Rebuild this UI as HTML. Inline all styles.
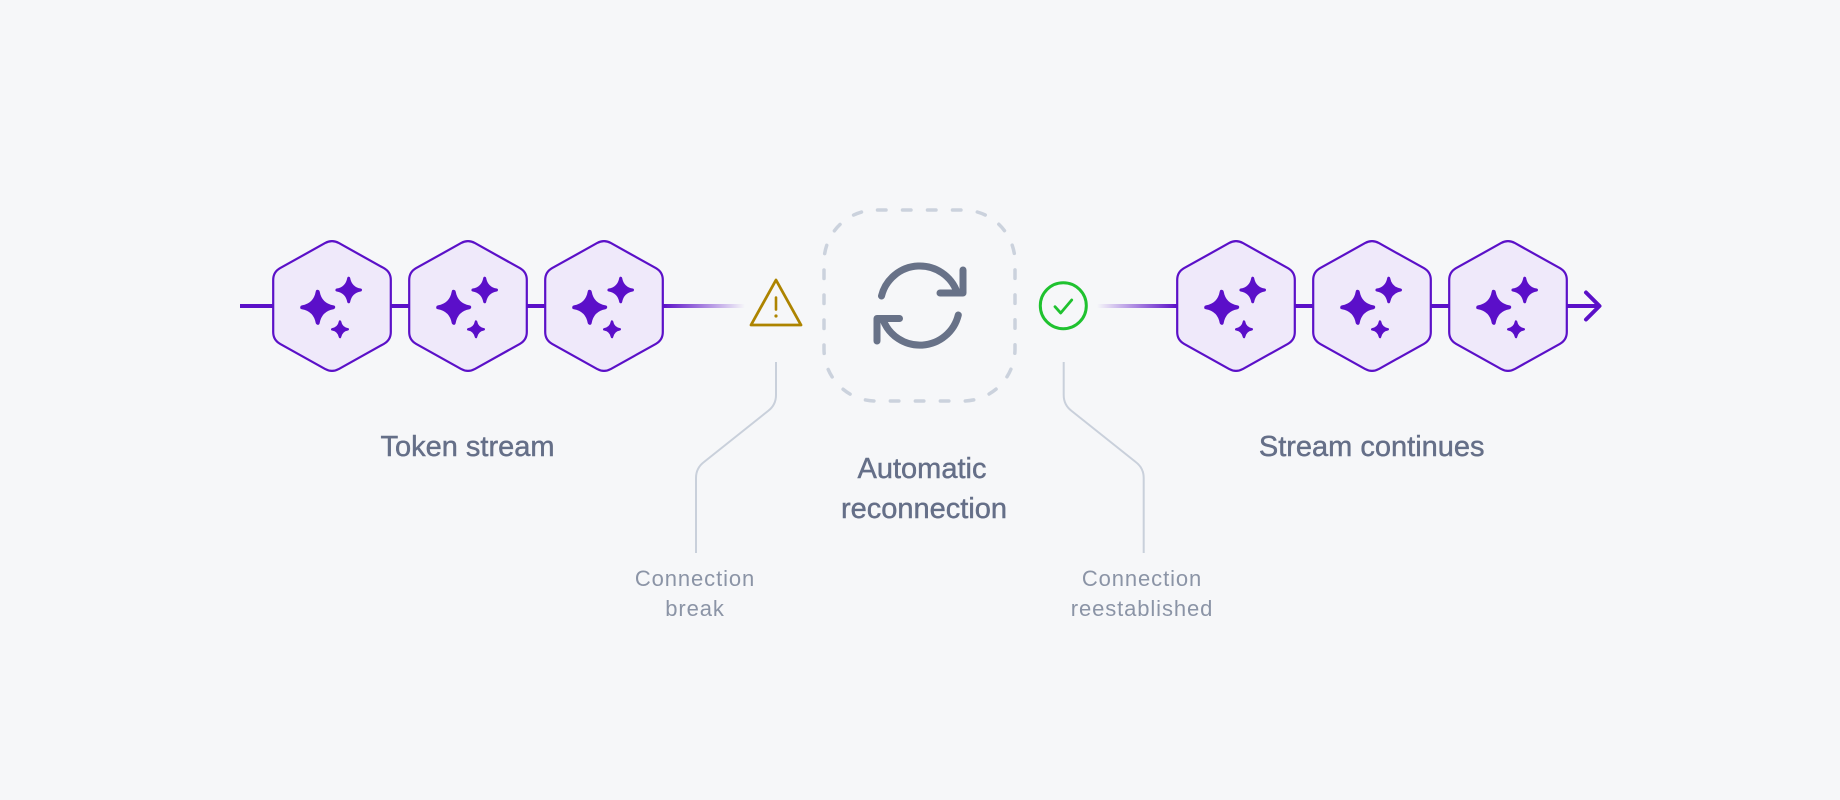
<!DOCTYPE html>
<html>
<head>
<meta charset="utf-8">
<style>
  html, body { margin: 0; padding: 0; background: #f6f7f9; }
  body { width: 1840px; height: 800px; overflow: hidden; }
  svg { display: block; }
  .big { font-family: "Liberation Sans", sans-serif; font-size: 29px; fill: #656f88; stroke: #656f88; stroke-width: 0.45px; }
  .small { font-family: "Liberation Sans", sans-serif; font-size: 22px; fill: #8b94a6; letter-spacing: 0.9px; }
</style>
</head>
<body>
<svg width="1840" height="800" viewBox="0 0 1840 800" xmlns="http://www.w3.org/2000/svg">
  <defs>
    <linearGradient id="fadeOut" x1="663" y1="0" x2="745" y2="0" gradientUnits="userSpaceOnUse">
      <stop offset="0" stop-color="#5b10c8" stop-opacity="1"/>
      <stop offset="1" stop-color="#5b10c8" stop-opacity="0"/>
    </linearGradient>
    <linearGradient id="fadeIn" x1="1097" y1="0" x2="1177" y2="0" gradientUnits="userSpaceOnUse">
      <stop offset="0" stop-color="#5b10c8" stop-opacity="0"/>
      <stop offset="1" stop-color="#5b10c8" stop-opacity="1"/>
    </linearGradient>
    <path id="spk" d="M0,-10 Q1.5,-1.5 10,0 Q1.5,1.5 0,10 Q-1.5,1.5 -10,0 Q-1.5,-1.5 0,-10 Z"/>
    <g id="tok">
      <path d="M6.99,-62.9 L51.81,-37.9 Q58.8,-34 58.8,-26 L58.8,26 Q58.8,34 51.81,37.9 L6.99,62.9 Q0,66.8 -6.99,62.9 L-51.81,37.9 Q-58.8,34 -58.8,26 L-58.8,-26 Q-58.8,-34 -51.81,-37.9 L-6.99,-62.9 Q0,-66.8 6.99,-62.9 Z"
            fill="#efe9fa" stroke="#5b10c8" stroke-width="2.2"/>
      <use href="#spk" transform="translate(-14.3,1.3) scale(1.55)" fill="#5b0fc9" stroke="#5b0fc9" stroke-width="2.58" stroke-linejoin="round"/>
      <use href="#spk" transform="translate(16.7,-16) scale(1.18)" fill="#5b0fc9" stroke="#5b0fc9" stroke-width="2.54" stroke-linejoin="round"/>
      <use href="#spk" transform="translate(8,23.3) scale(0.78)" fill="#5b0fc9" stroke="#5b0fc9" stroke-width="3.08" stroke-linejoin="round"/>
    </g>
  </defs>

  <rect x="0" y="0" width="1840" height="800" fill="#f6f7f9"/>

  <!-- stream lines -->
  <line x1="240" y1="306" x2="664" y2="306" stroke="#5b10c8" stroke-width="4"/>
  <rect x="663" y="304" width="82" height="4" fill="url(#fadeOut)"/>
  <rect x="1097" y="304" width="81" height="4" fill="url(#fadeIn)"/>
  <line x1="1176" y1="306" x2="1599" y2="306" stroke="#5b10c8" stroke-width="4"/>
  <path d="M1586 292.5 L1599.5 306 L1586 319.5" fill="none" stroke="#5b10c8" stroke-width="4" stroke-linecap="round" stroke-linejoin="round"/>

  <!-- tokens -->
  <use href="#tok" transform="translate(332,306)"/>
  <use href="#tok" transform="translate(468,306)"/>
  <use href="#tok" transform="translate(604,306)"/>
  <use href="#tok" transform="translate(1236,306)"/>
  <use href="#tok" transform="translate(1372,306)"/>
  <use href="#tok" transform="translate(1508,306)"/>

  <!-- warning -->
  <path d="M776 280 L801 325 L751 325 Z" fill="none" stroke="#ad8400" stroke-width="2.8" stroke-linejoin="round"/>
  <line x1="776" y1="297.5" x2="776" y2="309.5" stroke="#ad8400" stroke-width="2.6" stroke-linecap="round"/>
  <circle cx="776" cy="316" r="1.6" fill="#ad8400"/>

  <!-- dashed box -->
  <rect x="824" y="210" width="191" height="191" rx="52" ry="52" fill="none" stroke="#cbd2dd" stroke-width="3.5"
        stroke-dasharray="8.5 16.49" stroke-dashoffset="-1.5" stroke-linecap="round"/>

  <!-- refresh icon -->
  <g fill="none" stroke="#687288" stroke-width="7" stroke-linecap="round" stroke-linejoin="round">
    <path d="M881.5 296 A39.5 39.5 0 0 1 957.1 292.4"/>
    <path d="M963 270 V293 H940"/>
    <path d="M958.3 315 A39.5 39.5 0 0 1 882.9 319.4"/>
    <path d="M877 341 V318.5 H899.5"/>
  </g>

  <!-- check -->
  <circle cx="1063.3" cy="305.7" r="23" fill="none" stroke="#1fc22f" stroke-width="3"/>
  <path d="M1055 306.7 L1060.7 313 L1071.7 300" fill="none" stroke="#1fc22f" stroke-width="2.8" stroke-linecap="round" stroke-linejoin="round"/>

  <!-- leader lines -->
  <path d="M776 362 V395 Q776 405 768 411 L704 462 Q696 468 696 478 V553" fill="none" stroke="#c9d0db" stroke-width="2"/>
  <path d="M1063.7 362 V395 Q1063.7 405 1071.7 411 L1135.7 462 Q1143.7 468 1143.7 478 V553" fill="none" stroke="#c9d0db" stroke-width="2"/>

  <!-- labels -->
  <text class="big" x="467.5" y="456" text-anchor="middle">Token stream</text>
  <text class="big" x="1371.7" y="456" text-anchor="middle">Stream continues</text>
  <text class="big" x="922" y="478" text-anchor="middle">Automatic</text>
  <text class="big" x="924" y="518" text-anchor="middle">reconnection</text>

  <text class="small" x="695" y="586" text-anchor="middle">Connection</text>
  <text class="small" x="695" y="616" text-anchor="middle">break</text>
  <text class="small" x="1142" y="586" text-anchor="middle">Connection</text>
  <text class="small" x="1142" y="616" text-anchor="middle">reestablished</text>
</svg>
</body>
</html>
